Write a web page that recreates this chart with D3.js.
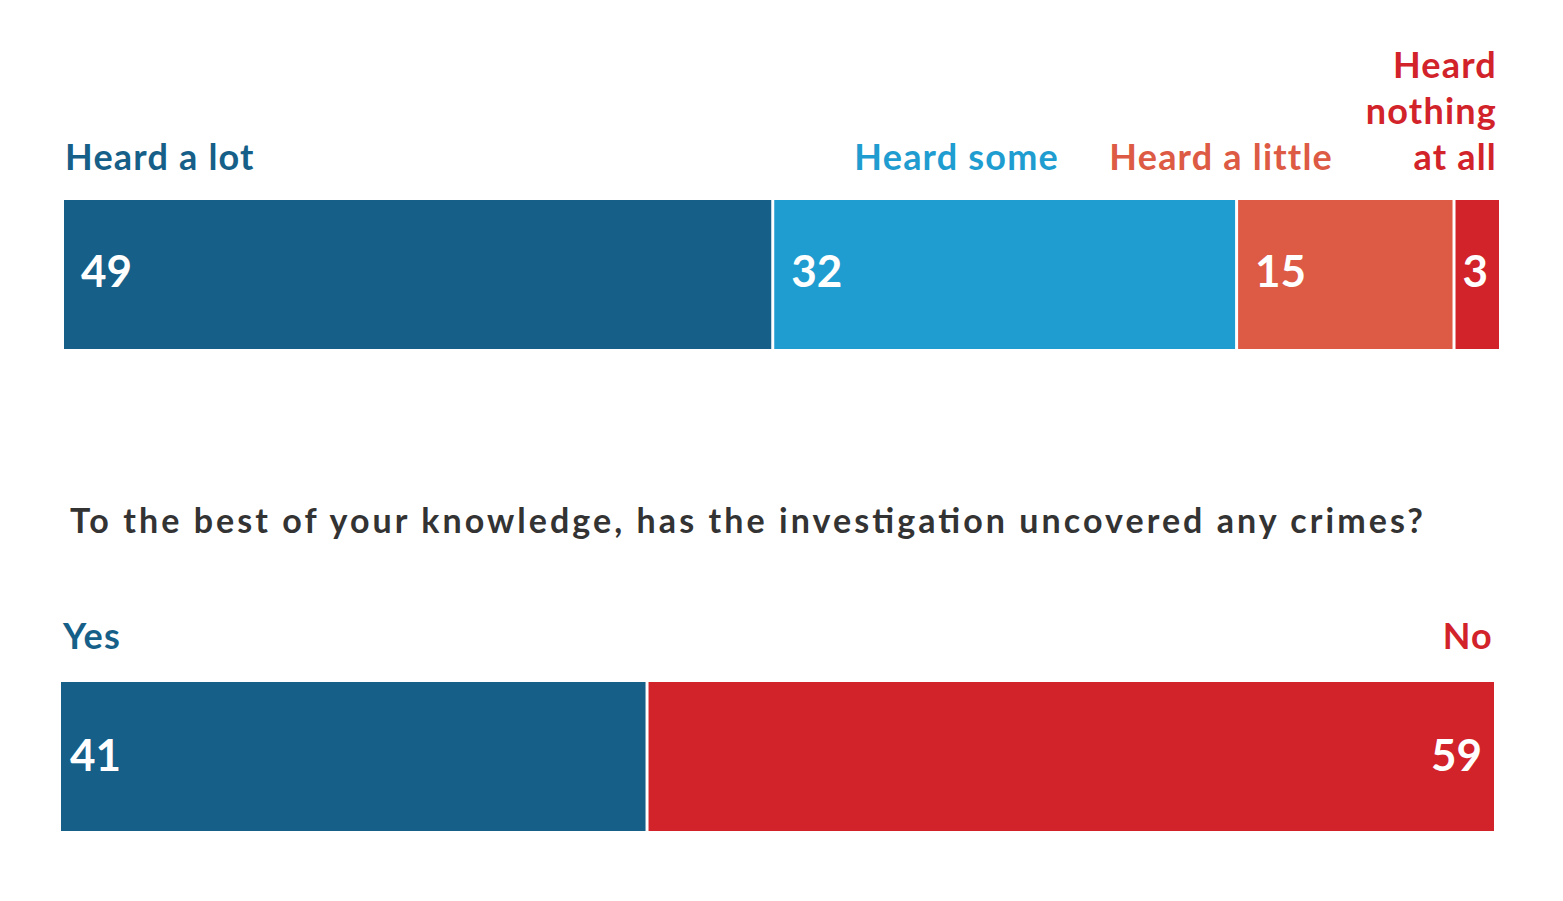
<!DOCTYPE html>
<html><head><meta charset="utf-8">
<script src="https://cdn.jsdelivr.net/npm/d3@7"></script>
<style>body{margin:0;background:#fff}text{font-family:Lato,"Open Sans",sans-serif;font-weight:700}</style>
</head><body><div id="chart"></div>
<script>
const heardCats = ["Heard a lot", "Heard some", "Heard a little", "Heard nothing at all"];
const heardVals = [49, 32, 15, 3];
const crimeCats = ["Yes", "No"];
const crimeVals = [41, 59];
const question = "To the best of your knowledge, has the investigation uncovered any crimes?";
const heardColors = ["#165f88", "#1f9dd0", "#dd5a44", "#d2232a"];
const crimeColors = ["#165f88", "#d2232a"];

var svg = d3.select("#chart").append("svg").attr("width", 1563).attr("height", 901);

function stack(vals) {
  var acc = 0;
  return vals.map(function (v) { var s = acc; acc += v; return { v: v, s: s, e: acc }; });
}

// top bar
var x1 = d3.scaleLinear().domain([0, d3.sum(heardVals)]).range([64, 1499]);
var topSegs = stack(heardVals);
svg.append("g").selectAll("rect").data(topSegs).enter().append("rect")
  .attr("x", function (d) { return x1(d.s); })
  .attr("width", function (d, i) { return x1(d.e) - x1(d.s) - (i < topSegs.length - 1 ? 3 : 0); })
  .attr("y", 200).attr("height", 149)
  .attr("fill", function (d, i) { return heardColors[i]; });
svg.append("g").selectAll("text").data(topSegs).enter().append("text")
  .attr("x", function (d, i) { return x1(d.s) + (i === 3 ? 7 : 17); })
  .attr("y", 287).attr("fill", "#fff").style("font-size", "44px")
  .text(function (d) { return d.v; });

// category labels (top)
var labelPos = [
  { x: 65, anchor: "start", lines: ["Heard a lot"] },
  { x: 1059, anchor: "end", lines: ["Heard some"] },
  { x: 1333, anchor: "end", lines: ["Heard a little"] },
  { x: 1497, anchor: "end", lines: ["Heard", "nothing", "at all"] }
];
labelPos.forEach(function (p, i) {
  var n = p.lines.length;
  p.lines.forEach(function (l, j) {
    svg.append("text").attr("x", p.x).attr("y", 170 - (n - 1 - j) * 46)
      .attr("text-anchor", p.anchor).attr("fill", heardColors[i])
      .style("font-size", "36px").style("letter-spacing", "1.2px").text(l);
  });
});

// question
svg.append("text").attr("x", 70).attr("y", 533).attr("fill", "#333")
  .style("font-size", "34px").attr("textLength", 1353).attr("lengthAdjust", "spacing")
  .text(question);

// bottom bar
var x2 = d3.scaleLinear().domain([0, d3.sum(crimeVals)]).range([61, 1494]);
var bot = stack(crimeVals);
svg.append("g").selectAll("rect").data(bot).enter().append("rect")
  .attr("x", function (d) { return x2(d.s); })
  .attr("width", function (d, i) { return x2(d.e) - x2(d.s) - (i === 0 ? 3 : 0); })
  .attr("y", 682).attr("height", 149)
  .attr("fill", function (d, i) { return crimeColors[i]; });
svg.append("g").selectAll("text").data(bot).enter().append("text")
  .attr("x", function (d, i) { return i === 0 ? x2(d.s) + 9 : x2(d.e) - 12; })
  .attr("text-anchor", function (d, i) { return i === 0 ? "start" : "end"; })
  .attr("y", 771).attr("fill", "#fff").style("font-size", "44px")
  .text(function (d) { return d.v; });
svg.append("text").attr("x", 63).attr("y", 649).attr("fill", crimeColors[0])
  .style("font-size", "36px").style("letter-spacing", "1.2px").text(crimeCats[0]);
svg.append("text").attr("x", 1493).attr("y", 649).attr("text-anchor", "end")
  .attr("fill", crimeColors[1]).style("font-size", "36px").style("letter-spacing", "1.2px").text(crimeCats[1]);
</script></body></html>
